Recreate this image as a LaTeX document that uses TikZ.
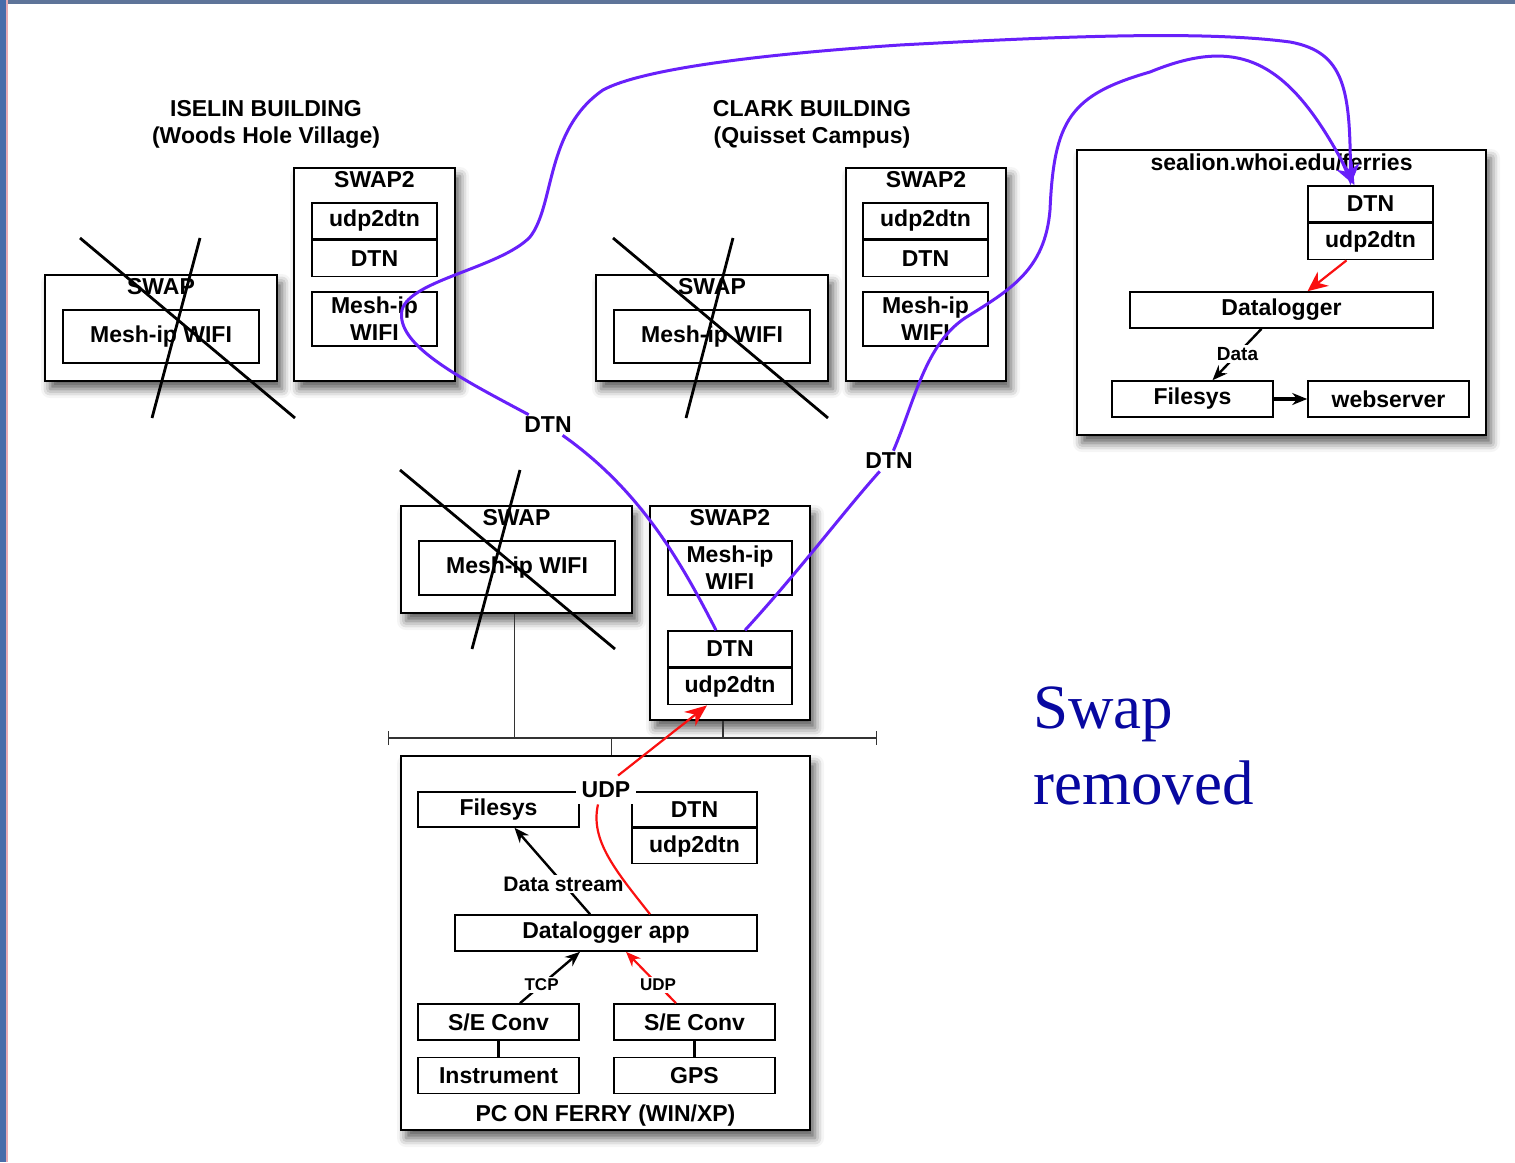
\documentclass[tikz,border=0pt]{standalone}
\usepackage{fontspec}
\setmainfont{Liberation Sans}
\newfontfamily\notefont{Liberation Serif}
\usetikzlibrary{positioning,arrows.meta,shadows.blur}
\definecolor{dtnviolet}{RGB}{104,32,250}
\definecolor{udpred}{RGB}{250,16,16}
\definecolor{noteblue}{RGB}{8,8,160}
\definecolor{edgeblue}{RGB}{72,108,170}
\definecolor{edgepink}{RGB}{232,170,180}
\newcommand{\boxfont}{\bfseries\fontsize{11.5}{13.5}\selectfont}
\newcommand{\midfont}{\bfseries\fontsize{10.5}{12}\selectfont}
\newcommand{\tinyfont}{\bfseries\fontsize{8.5}{10}\selectfont}

\begin{document}
\begin{tikzpicture}[>={Stealth[length=7.5pt, width=6pt]}, x=0.5pt, y=-0.5pt,
        outer/.style={draw, fill=white, line width=1pt, inner sep=0pt,
            blur shadow={shadow xshift=2.5pt, shadow yshift=-4pt, shadow blur radius=4.5pt, shadow opacity=65}},
        part/.style={draw, fill=white, line width=0.8pt, inner sep=0pt, align=center,
            minimum width=62.5pt, minimum height=18pt, font=\boxfont},
        title/.style={below, inner sep=2pt, font=\boxfont},
        building/.style={align=center, font=\boxfont},
        cross/.style={line width=1.4pt},
        bus/.style={line width=0.6pt, draw=black!80},
        link/.style={->, line width=1.2pt},
        udpline/.style={line width=1.1pt, draw=udpred},
        dtnlink/.style={line width=1.5pt, draw=dtnviolet},
        bighead/.style={-{Stealth[length=11pt, width=9pt]}},
        lbl/.style={fill=white, inner sep=1pt, font=\tinyfont},
        note/.style={inner sep=0pt, text=noteblue, font=\notefont\fontsize{31.5}{38}\selectfont}]
    \useasboundingbox (0,0) rectangle (1515,1162);
    \fill[edgeblue] (0,0) rectangle (6,1162);
    \fill[edgepink] (6,0) rectangle (8,1162);
    \fill[edgeblue!60!gray] (8,0) rectangle (1515,4);

    \node[building] (iselin) at (266,124) {ISELIN BUILDING\\(Woods Hole Village)};
    \node[building] (clark) at (812,124) {CLARK BUILDING\\(Quisset Campus)};

    \node[outer, minimum width=116pt, minimum height=53pt, label={[title]north:SWAP}] (iswap) at (161,328) {};
    \node[part, minimum width=98pt, minimum height=26.5pt] (iswapwifi) at (161,336.5) {Mesh-ip WIFI};
    \node[outer, minimum width=80.5pt, minimum height=106.5pt, label={[title]north:SWAP2}] (iswaptwo) at (374.5,274.5) {};
    \node[part] (iudp) at (374.5,221) {udp2dtn};
    \node[part, below=0pt of iudp] (idtn) {DTN};
    \node[part, minimum height=27pt] (iwifi) at (374.5,319) {Mesh-ip\\WIFI};

    \node[outer, minimum width=116pt, minimum height=53pt, label={[title]north:SWAP}] (cswap) at (712,328) {};
    \node[part, minimum width=98pt, minimum height=26.5pt] (cswapwifi) at (712,336.5) {Mesh-ip WIFI};
    \node[outer, minimum width=80pt, minimum height=106.5pt, label={[title]north:SWAP2}] (cswaptwo) at (926,274.5) {};
    \node[part] (cudp) at (925.5,221) {udp2dtn};
    \node[part, below=0pt of cudp] (cdtn) {DTN};
    \node[part, minimum height=27pt] (cwifi) at (925.5,319) {Mesh-ip\\WIFI};

    \node[outer, minimum width=204.5pt, minimum height=142.5pt, label={[title]north:sealion.whoi.edu/ferries}] (sealion) at (1281.5,292.5) {};
    \node[part] (sdtn) at (1370.5,204) {DTN};
    \node[part, below=0pt of sdtn] (sudp) {udp2dtn};
    \node[part, minimum width=151.5pt] (slogger) at (1281.5,310) {Datalogger};
    \node[part, minimum width=80.5pt] (sfiles) at (1192.5,399) {Filesys};
    \node[part, minimum width=80.5pt] (sweb) at (1388.5,399) {webserver};

    \node[outer, minimum width=115.5pt, minimum height=53.5pt, label={[title]north:SWAP}] (mswap) at (516.5,559.5) {};
    \node[part, minimum width=98pt, minimum height=27pt] (mswapwifi) at (517,568) {Mesh-ip WIFI};
    \node[outer, minimum width=80pt, minimum height=107pt, label={[title]north:SWAP2}] (mswaptwo) at (730,613) {};
    \node[part, minimum width=62pt, minimum height=27pt] (mwifi) at (730,568) {Mesh-ip\\WIFI};
    \node[part, minimum width=62pt] (mdtn) at (730,649) {DTN};
    \node[part, minimum width=62pt, below=0pt of mdtn] (mudp) {udp2dtn};

    \node[outer, minimum width=204.5pt, minimum height=187pt, label={[title, above]south:PC ON FERRY (WIN/XP)}] (pc) at (605.5,943) {};
    \node[part, minimum width=80.5pt, minimum height=17.5pt] (pfiles) at (498.5,809.5) {Filesys};
    \node[part, minimum height=17.5pt] (pdtn) at (694.5,809.5) {DTN};
    \node[part, minimum height=17.5pt, below=0pt of pdtn] (pudp) {udp2dtn};
    \node[part, minimum width=151pt] (plogger) at (606,933) {Datalogger app};
    \node[part, minimum width=80.5pt] (pconva) at (498.5,1022) {S/E Conv};
    \node[part, minimum width=80.5pt] (pinstr) at (498.5,1075.5) {Instrument};
    \node[part, minimum width=80.5pt] (pconvb) at (694.5,1022) {S/E Conv};
    \node[part, minimum width=80.5pt] (pgps) at (694.5,1075.5) {GPS};

    \draw[cross] (80,238) -- (295,418);
    \draw[cross] (200,238) -- (152,418);
    \draw[cross] (613,238) -- (828,418);
    \draw[cross] (733,238) -- (686,418);
    \draw[cross] (400,470) -- (615,649);
    \draw[cross] (520,470) -- (472,649);

    \coordinate (busl) at (388,738);
    \coordinate (busr) at (877,738);
    \coordinate (tapa) at ([xshift=-1pt]mswap.south);
    \coordinate (tapb) at ([xshift=-3.5pt]mswaptwo.south);
    \coordinate (tapc) at ([xshift=3pt]pc.north);
    \draw[bus, {Bar[width=7pt]}-{Bar[width=7pt]}] (busl) -- (busr);
    \draw[bus] (tapa) -- (tapa |- busl);
    \draw[bus] (tapb) -- (tapb |- busl);
    \draw[bus] (tapc) -- (tapc |- busl);

    \node[font=\boxfont, inner sep=1pt] (dtnl) at (548,425) {DTN};
    \node[font=\boxfont, inner sep=1pt] (dtnr) at (889,461) {DTN};
    \node[font=\boxfont, fill=white, inner sep=3pt] (udpl) at (606,790) {UDP};

    \draw[link] ([xshift=-10pt]slogger.south) -- node[lbl, pos=0.49, font=\bfseries\fontsize{9.5}{11}\selectfont] (datalbl) {Data} ([xshift=10pt]sfiles.north);
    \draw[link, line width=1.6pt] (sfiles) -- (sweb);
    \draw[udpline, -{Stealth[length=10pt, width=9pt]}] ([xshift=-12pt]sudp.south) -- ([xshift=13pt]slogger.north);

    \draw[link] ([xshift=-8pt]plogger.north) -- node[lbl, pos=0.35, font=\midfont] (streamlbl) {Data stream} ([xshift=8pt]pfiles.south);
    \draw[link] ([xshift=10.75pt]pconva.north) -- node[lbl, pos=0.36] (tcplbl) {TCP} ([xshift=-13pt]plogger.south);
    \draw[udpline, ->] ([xshift=-9.25pt]pconvb.north) -- node[lbl, pos=0.36] (udplbl) {UDP} ([xshift=10pt]plogger.south);
    \draw[line width=1.4pt] (pconva) -- (pinstr);
    \draw[line width=1.4pt] (pconvb) -- (pgps);
    \draw[udpline] ([xshift=22pt]plogger.north) .. controls (615,870) and (590,840) .. ([xshift=-4pt]udpl.south);
    \draw[udpline, bighead] ([xshift=6pt]udpl.north) -- ([xshift=-11.5pt]mudp.south);

    \draw[dtnlink] ([xshift=-7pt]mdtn.north) .. controls (680,560) and (640,490) .. (dtnl);
    \draw[dtnlink, bighead] (dtnl) .. controls (460,378) and (395,345) .. (402,310)
        .. controls (410,280) and (500,268) .. (530,237)
        .. controls (555,205) and (545,130) .. (603,90)
        .. controls (640,70) and (750,55) .. (900,45)
        .. controls (1050,37) and (1200,30) .. (1290,42)
        .. controls (1345,52) and (1350,90) .. ([xshift=-10pt]sdtn.north);
    \draw[dtnlink] ([xshift=7.5pt]mdtn.north) .. controls (800,570) and (845,510) .. (dtnr);
    \draw[dtnlink, bighead] (dtnr) .. controls (915,400) and (925,345) .. (965,318)
        .. controls (1010,290) and (1045,270) .. (1050,210)
        .. controls (1054,120) and (1070,95) .. (1150,72)
        .. controls (1240,35) and (1290,60) .. ([xshift=-8pt]sdtn.north);

    \node[note, anchor=base west] (swap) at (1033,728) {Swap};
    \node[note, anchor=base west] (removed) at ([yshift=-38pt]swap.base west) {removed};
\end{tikzpicture}
\end{document}
